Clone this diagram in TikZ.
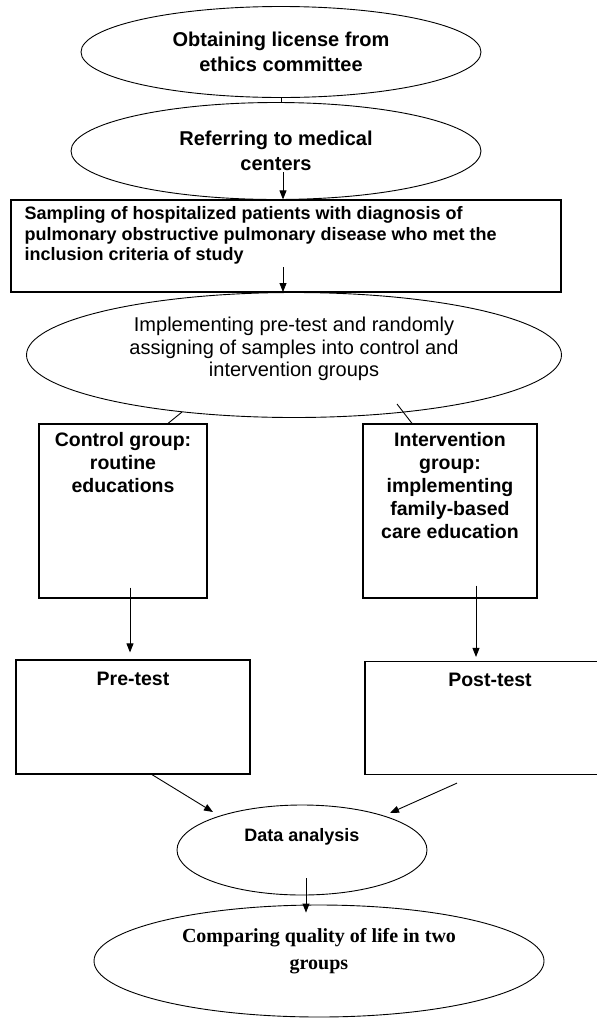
\documentclass[tikz,border=0pt]{standalone}
\usepackage{fontspec}
\setmainfont{Liberation Sans}
\newfontfamily\serifbold{Liberation Serif}
\usetikzlibrary{shapes.geometric, arrows.meta, positioning, calc}

\begin{document}
\begin{tikzpicture}[x=1pt, y=-1pt,
  oval/.style={draw, ellipse, line width=0.9pt, inner sep=0pt},
  box/.style={draw, line width=1.2pt, inner sep=0pt},
  headtxt/.style={font=\fontsize{20pt}{24.5pt}\selectfont\bfseries, align=center},
  plaintxt/.style={font=\fontsize{20pt}{22.5pt}\selectfont, align=center, inner sep=0pt},
  grouptxt/.style={font=\fontsize{19.5pt}{23pt}\selectfont\bfseries, align=center, inner sep=0pt},
  sampletxt/.style={font=\fontsize{18pt}{20.5pt}\selectfont\bfseries, align=left, inner sep=0pt},
  resulttxt/.style={font=\fontsize{20pt}{27pt}\serifbold\bfseries, align=center, inner sep=0pt},
  arr/.style={-{Triangle[length=9pt, width=7pt]}, line width=0.9pt},
  link/.style={line width=0.9pt},
]
\useasboundingbox (0,0) rectangle (597,1018);
%% Top of the flow
\node[oval, headtxt, minimum width=400pt, minimum height=91pt] (ethics) at (281,52)
  {Obtaining license from\\ethics committee};
\node[oval, headtxt, minimum width=410pt, minimum height=97pt] (referring) at (276,151)
  {Referring to medical\\centers};
\node[box, minimum width=550pt, minimum height=92pt,
  label={[sampletxt, anchor=north west, xshift=14pt, yshift=-7pt]north west:Sampling of hospitalized patients with diagnosis of\\pulmonary obstructive pulmonary disease who met the\\inclusion criteria of study}]
  (sampling) at (286,246) {};
\node[oval, minimum width=535pt, minimum height=125pt,
  label={[plaintxt, yshift=6pt]center:Implementing pre-test and randomly\\assigning of samples into control and\\intervention groups}]
  (random) at (294,355) {};
%% Groups
\node[box, minimum width=168pt, minimum height=174pt,
  label={[grouptxt, anchor=north, yshift=-9pt]north:Control group:\\routine\\educations}]
  (control) at (123,511) {};
\node[box, minimum width=174pt, minimum height=174pt,
  label={[grouptxt, anchor=north, yshift=-9pt]north:Intervention\\group:\\implementing\\family-based\\care education}]
  (interv) at (450,511) {};
%% Tests
\node[box, minimum width=234pt, minimum height=114pt,
  label={[grouptxt, anchor=north, yshift=-12pt]north:Pre-test}]
  (pretest) at (133,717) {};
\node[box, minimum width=244pt, minimum height=113pt,
  label={[grouptxt, anchor=north, xshift=3pt, yshift=-12pt]north:Post-test}]
  (posttest) at (487,718) {};
%% Analysis
\node[oval, minimum width=250pt, minimum height=90pt,
  label={[grouptxt, font=\fontsize{18pt}{22pt}\selectfont\bfseries, yshift=13pt]center:Data analysis}]
  (analysis) at (302,850) {};
\node[oval, minimum width=450pt, minimum height=112pt,
  label={[resulttxt, yshift=10pt]center:Comparing quality of life in two\\groups}]
  (compare) at (319,961) {};
%% Connectors
\draw[link] (ethics.south) -- (ethics.south |- referring.north);
\draw[arr] ($(referring.center)+(7,21)$) -- ($(referring.center |- sampling.north)+(7,0)$);
\draw[arr] ($(sampling.center)+(-3,21)$) -- ($(sampling.center |- random.north)+(-3,0)$);
\draw[link] (random.207) -- ($(control.north)+(45,0)$);
\draw[link] ($(random.center)+(103,49)$) -- ($(interv.north)+(-38,0)$);
\draw[arr, shorten >=7pt] ($(control.south)+(7,-11)$) -- ($(pretest.north)+(-3,0)$);
\draw[arr, shorten >=4pt] ($(interv.south)+(26,-13)$) -- ($(posttest.north)+(-11,0)$);
\draw[arr] ($(pretest.south)+(19,0)$) -- ($(analysis.center)+(-89,-38)$);
\draw[arr] ($(posttest.south)+(-30,8)$) -- ($(analysis.center)+(88,-37)$);
\draw[arr] ($(analysis.center)+(4,28)$) -- ($(compare.north)+(-13,8)$);
\end{tikzpicture}
\end{document}
